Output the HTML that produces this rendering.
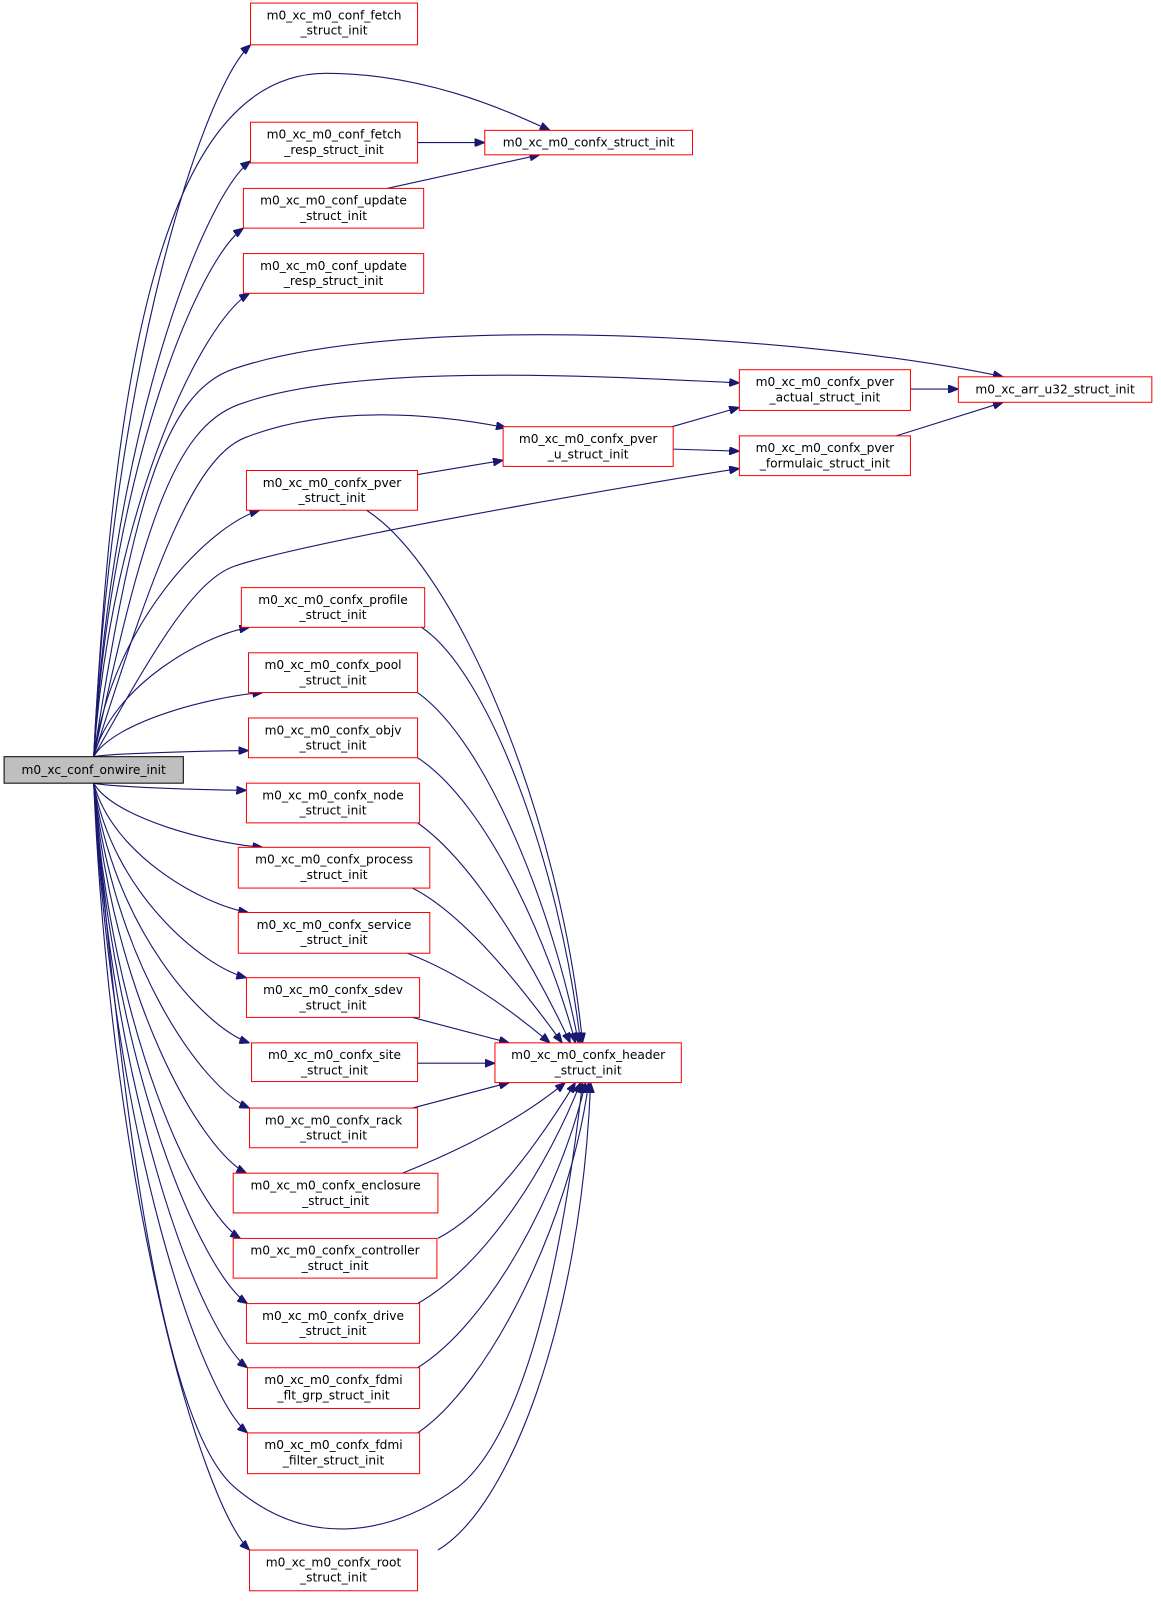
<!DOCTYPE html>
<html><head><meta charset="utf-8"><style>
html,body{margin:0;padding:0;background:#fff;}
svg{display:block;}
text{font-family:"DejaVu Sans","Liberation Sans",sans-serif;font-size:12px;fill:#000;}
</style></head><body>
<svg id="s" width="1161" height="1603" viewBox="0 0 1140 1574" xmlns="http://www.w3.org/2000/svg">
<defs><marker id="a" viewBox="0 0 10 8" refX="10" refY="4" markerWidth="10" markerHeight="8" markerUnits="userSpaceOnUse" orient="auto"><path d="M0,0 L10,4 L0,8 z" fill="#191970" stroke="#191970"/></marker></defs>
<g id="e" fill="none" stroke="#191970" stroke-width="1.1" marker-end="url(#a)"></g>
<g id="n"></g>
</svg>
<script>
var N=[
["m0_xc_conf_onwire_init","",4,743,180,769,1],
["m0_xc_m0_conf_fetch","_struct_init",246,3,410,44],
["m0_xc_m0_conf_fetch","_resp_struct_init",246,120,410,160],
["m0_xc_m0_conf_update","_struct_init",239,185,416,224],
["m0_xc_m0_conf_update","_resp_struct_init",239,249,416,288],
["m0_xc_m0_confx_struct_init","",476,128,680,152],
["m0_xc_m0_confx_pver","_actual_struct_init",726,363,894,403],
["m0_xc_arr_u32_struct_init","",941,370,1131,395],
["m0_xc_m0_confx_pver","_u_struct_init",494,419,661,458],
["m0_xc_m0_confx_pver","_formulaic_struct_init",726,428,894,467],
["m0_xc_m0_confx_pver","_struct_init",242,462,410,501],
["m0_xc_m0_confx_profile","_struct_init",237,577,417,616],
["m0_xc_m0_confx_pool","_struct_init",244,641,410,680],
["m0_xc_m0_confx_objv","_struct_init",244,705,410,744],
["m0_xc_m0_confx_node","_struct_init",242,769,412,808],
["m0_xc_m0_confx_process","_struct_init",234,832,422,872],
["m0_xc_m0_confx_service","_struct_init",234,896,422,936],
["m0_xc_m0_confx_sdev","_struct_init",242,960,412,999],
["m0_xc_m0_confx_site","_struct_init",247,1024,410,1062],
["m0_xc_m0_confx_header","_struct_init",486,1024,669,1063],
["m0_xc_m0_confx_rack","_struct_init",245,1088,410,1127],
["m0_xc_m0_confx_enclosure","_struct_init",229,1152,430,1191],
["m0_xc_m0_confx_controller","_struct_init",229,1216,429,1255],
["m0_xc_m0_confx_drive","_struct_init",242,1280,412,1319],
["m0_xc_m0_confx_fdmi","_flt_grp_struct_init",243,1343,412,1383],
["m0_xc_m0_confx_fdmi","_filter_struct_init",243,1407,412,1447],
["m0_xc_m0_confx_root","_struct_init",245,1522,410,1562]];
var ns="http://www.w3.org/2000/svg",g=document.getElementById("n"),eg=document.getElementById("e");
function el(t,a,p,tx){var e=document.createElementNS(ns,t);for(var k in a)e.setAttribute(k,a[k]);if(tx)e.textContent=tx;p.appendChild(e);return e;}
N.forEach(function(d){
 el("rect",{x:d[2],y:d[3],width:d[4]-d[2],height:d[5]-d[3],fill:d[6]?"#bfbfbf":"#fff",stroke:d[6]?"#000":"#ff0000","stroke-width":1},g);
 var cx=(d[2]+d[4])/2;
 if(d[1]===""){el("text",{x:cx,y:(d[3]+d[5])/2+4,"text-anchor":"middle"},g,d[0]);}
 else{el("text",{x:cx,y:d[3]+16,"text-anchor":"middle"},g,d[0]);el("text",{x:cx,y:d[3]+31,"text-anchor":"middle"},g,d[1]);}
});
function P(d){el("path",{d:d},eg);}
function fan(tx,ty){var sx=92,sy=ty<756?743:769;
 P("M"+sx+","+sy+" C"+(sx+(tx-sx)*0.12)+","+(sy+(ty-sy)*0.55)+" "+(tx-(tx-sx)*0.3)+","+(ty-(ty-sy)*0.06)+" "+tx+","+ty);}
[[246,44],[246,158],[239,224],[245,288],[255,501],[245,616],[258,680],[244,737],[242,776],[258,832],[244,896],[242,960],[245,1024],[245,1088],[242,1152],[236,1216],[243,1280],[243,1343],[243,1407],[245,1522]].forEach(function(p){fan(p[0],p[1]);});
P("M92,743 C110,400 150,72 320,72 C420,72 500,110 540,128");
P("M92,743 C130,500 160,385 230,362 C400,305 800,330 985,370");
P("M92,743 C140,520 170,420 235,397 C350,355 600,370 726,376");
P("M92,743 C150,560 190,450 240,430 C320,398 420,405 497,420");
P("M92,743 C150,640 190,570 230,556 C300,532 600,480 726,460");
P("M92,769 C120,1100 160,1400 230,1460 C300,1520 380,1510 450,1460 C500,1420 545,1300 572,1063");
P("M410,140 L476,140");
P("M380,185 L530,152");
P("M894,382 L941,382");
P("M880,428 L985,395");
P("M660,419 L726,400");
P("M661,441 L726,443");
P("M410,466 L494,452");
P("M360,501 C450,560 550,800 572,1024");
P("M414,616 C480,660 550,850 570,1024");
P("M410,680 C480,730 545,900 568,1024");
P("M410,744 C480,790 540,930 565,1024");
P("M410,808 C470,850 530,960 560,1024");
P("M405,872 C460,900 520,980 552,1024");
P("M400,936 C450,955 500,990 540,1024");
P("M405,999 L500,1024");
P("M410,1044 L486,1044");
P("M405,1088 L500,1063");
P("M395,1152 C450,1130 510,1100 555,1063");
P("M430,1216 C480,1190 530,1120 565,1063");
P("M410,1280 C480,1240 540,1140 570,1063");
P("M410,1343 C480,1300 550,1170 575,1063");
P("M410,1407 C480,1360 560,1200 578,1063");
P("M430,1522 C500,1480 570,1300 580,1063");
</script>
</body></html>
